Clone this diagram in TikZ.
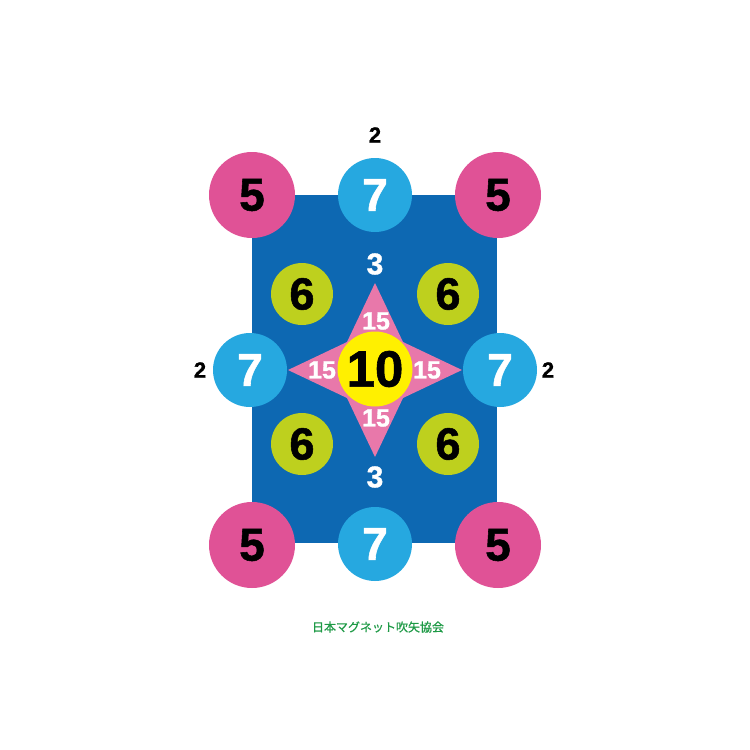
\documentclass[tikz,border=0pt]{standalone}
\usepackage{fontspec}
\setmainfont{Liberation Sans}[BoldFeatures={FakeBold=1.2}]
\newfontfamily\jpfont{Noto Sans CJK JP}[FakeBold=0.6]
\definecolor{pinkc}{HTML}{E05296}
\definecolor{cyanc}{HTML}{26A8E0}
\definecolor{boardc}{HTML}{0D68B2}
\definecolor{greenc}{HTML}{BED01E}
\definecolor{yellowc}{HTML}{FFF000}
\definecolor{starc}{HTML}{E878AA}
\definecolor{textgreen}{HTML}{1E9A46}
\begin{document}
\begin{tikzpicture}[x=1pt,y=-1pt,
  disc/.style={circle,inner sep=0pt,minimum size=#1},
  pinkdisc/.style={disc=86pt,fill=pinkc,font=\fontsize{46}{46}\selectfont\bfseries,text=black},
  cyandisc/.style={disc=74pt,fill=cyanc,font=\fontsize{46}{46}\selectfont\bfseries,text=white},
  greendisc/.style={disc=62pt,fill=greenc,font=\fontsize{45}{45}\selectfont\bfseries,text=black},
  yellowdisc/.style={disc=75pt,fill=yellowc,font=\fontsize{51}{51}\selectfont\bfseries,text=black},
  score/.style={font=\fontsize{25}{25}\selectfont\bfseries,text=white,inner sep=0pt},
  three/.style={font=\fontsize{30}{30}\selectfont\bfseries,text=white,inner sep=0pt},
  two/.style={font=\fontsize{22}{22}\selectfont\bfseries,text=black,inner sep=0pt}]
\useasboundingbox (0,0) rectangle (750,750);
\fill[white] (0,0) rectangle (750,750);
% board
\fill[boardc] (252,195) rectangle (497,543);
% star
\fill[starc] (375,283) -- (403,342) -- (462,370) -- (403,398) -- (375,457)
  -- (347,398) -- (288,370) -- (347,342) -- cycle;
\node[yellowdisc] (c10) at (375,369) {10};
% green
\node[greendisc] (g1) at (302,294) {6};
\node[greendisc] (g2) at (448,294) {6};
\node[greendisc] (g3) at (302,444) {6};
\node[greendisc] (g4) at (448,444) {6};
% cyan
\node[cyandisc] (b1) at (375,195) {7};
\node[cyandisc] (b2) at (250,370) {7};
\node[cyandisc] (b3) at (500,370) {7};
\node[cyandisc] (b4) at (375,544) {7};
% pink
\node[pinkdisc] (p1) at (252,195) {5};
\node[pinkdisc] (p2) at (498,195) {5};
\node[pinkdisc] (p3) at (252,545) {5};
\node[pinkdisc] (p4) at (498,545) {5};
% star scores
\node[score] (s1) at (376,321) {15};
\node[score] (s2) at (376,418) {15};
\node[score] (s3) at (322,370) {15};
\node[score] (s4) at (427,370) {15};
% threes
\node[three] (t1) at (375,264) {3};
\node[three] (t2) at (375,477) {3};
% twos
\node[two] (w1) at (375,135) {2};
\node[two] (w2) at (200,370) {2};
\node[two] (w3) at (548,370) {2};
% caption
\node[font=\jpfont\fontsize{12}{12}\selectfont,text=textgreen,inner sep=0pt] (cap) at (378,627) {日本マグネット吹矢協会};
\end{tikzpicture}
\end{document}
